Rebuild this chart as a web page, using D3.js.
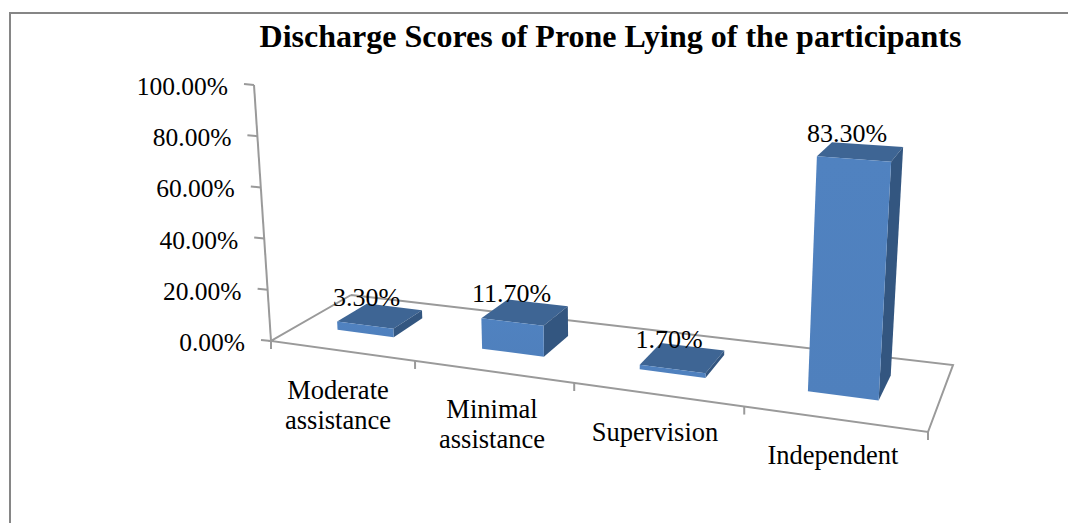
<!DOCTYPE html>
<html><head><meta charset="utf-8">
<script src="https://cdn.jsdelivr.net/npm/d3@7/dist/d3.min.js"></script>
<style>html,body{margin:0;padding:0;background:#fff}svg{display:block}text{font-family:"Liberation Serif",serif;fill:#000}</style>
</head><body><svg id="c" width="1068" height="523"></svg>
<script>
const titleText = "Discharge Scores of Prone Lying of the participants";
const categories = ["Moderate assistance","Minimal assistance","Supervision","Independent"];
const categoryLines = [["Moderate","assistance"],["Minimal","assistance"],["Supervision"],["Independent"]];
const values = [3.3,11.7,1.7,83.3];
const yTicks = [0,20,40,60,80,100];

const svg = d3.select("#c");
const FL=[271,341],FR=[928,432],BR=[953,365],BL=[351,295];
function makeH(p0,p1,p2,p3){
  const dx1=p1[0]-p2[0],dx2=p3[0]-p2[0],dy1=p1[1]-p2[1],dy2=p3[1]-p2[1];
  const sx=p0[0]-p1[0]+p2[0]-p3[0],sy=p0[1]-p1[1]+p2[1]-p3[1];
  const den=dx1*dy2-dx2*dy1;
  const g=(sx*dy2-dx2*sy)/den,h=(dx1*sy-sx*dy1)/den;
  const a=p1[0]-p0[0]+g*p1[0],b=p3[0]-p0[0]+h*p3[0],c=p0[0];
  const d=p1[1]-p0[1]+g*p1[1],e=p3[1]-p0[1]+h*p3[1],f=p0[1];
  return (u,v)=>{const w=g*u+h*v+1;return [(a*u+b*v+c)/w,(d*u+e*v+f)/w];};
}
const warp=d3.scaleLinear().domain([0,.25,.5,.75,1]).range([0,.262,.52,.765,1]);
const H=makeH(FL,FR,BR,BL);
const floor=(u,v)=>H(warp(u),v);
const band=d3.scaleBand().domain(categories).range([-0.004,0.996]).paddingInner(0.6).paddingOuter(0.3);
const depth=d3.scaleLinear().domain([0,1]).range([0.33,0.72]);
const heightPct=d3.scaleLinear().domain([0,100]).range([0,100]);
function raise(p,val){
  const px=(2.57+0.005*(p[1]-341))*heightPct(val);
  const lean=(p[0]-612)/(5507-p[1]);
  return [p[0]+lean*px,p[1]-px];
}
const gradF=svg.append("defs").append("linearGradient").attr("id","f").attr("x1",0).attr("x2",0).attr("y1",0).attr("y2",1);
gradF.append("stop").attr("offset",0).attr("stop-color","#5082c0");
gradF.append("stop").attr("offset",1).attr("stop-color","#4f80bd");

svg.append("path").attr("d","M10,523V13H1068").attr("fill","none").attr("stroke","#868686").attr("stroke-width",2);

svg.append("text").attr("x",610.5).attr("y",47).attr("text-anchor","middle").attr("font-size",32).attr("font-weight","bold").text(titleText);

const axisColor="#9a9a9a";
const line=d3.line();
const axisG=svg.append("g").attr("fill","none").attr("stroke",axisColor).attr("stroke-width",2);
axisG.append("path").attr("d",line([BL,FL,FR,BR,BL]));
const wallY=d3.scaleLinear().domain([0,100]).range([341,85]);
const wallX=d3.scaleLinear().domain([0,100]).range([271,254]);
axisG.append("path").attr("d",line([[wallX(0),wallY(0)],[wallX(100),wallY(100)]]));
axisG.selectAll("path.t").data(yTicks).join("path").attr("class","t")
  .attr("d",t=>line([[wallX(t)-10,wallY(t)-1],[wallX(t),wallY(t)]]));
const xt=[0,.25,.5,.75,1];
axisG.selectAll("path.x").data(xt).join("path").attr("class","x")
  .attr("d",u=>{const p=floor(u,0);return line([p,[p[0],p[1]+8]]);});

svg.append("g").selectAll("text").data(yTicks).join("text")
  .attr("x",t=>wallX(t)-26).attr("y",t=>wallY(t)+10).attr("text-anchor","end").attr("font-size",25.5)
  .text(t=>t.toFixed(2)+"%");

const bars=svg.append("g");
categories.forEach((c,i)=>{
  const v=values[i];
  const u0=band(c),u1=u0+band.bandwidth(),v0=depth(0),v1=depth(1);
  const a=floor(u0,v0),b=floor(u1,v0),cc=floor(u1,v1),dd=floor(u0,v1);
  const A=raise(a,v),B=raise(b,v),C=raise(cc,v),D=raise(dd,v);
  bars.append("path").attr("d",line([A,B,C,D])+"Z").attr("fill","#3e6594");
  bars.append("path").attr("d",line([B,C,cc,b])+"Z").attr("fill","#335680");
  bars.append("path").attr("d",line([a,b,B,A])+"Z").attr("fill","url(#f)");
  svg.append("text").datum(v)
    .attr("x",(A[0]+C[0])/2-13).attr("y",(A[1]+C[1])/2-10).attr("text-anchor","middle").attr("font-size",26)
    .text(v.toFixed(2)+"%");
});

const catPos=[[338,399],[492,418],[655,441],[833,464]];
svg.append("g").selectAll("text").data(categories).join("text")
  .attr("text-anchor","middle").attr("font-size",26.5)
  .each(function(c,i){
    const t=d3.select(this);
    categoryLines[i].forEach((l,j)=>t.append("tspan").attr("x",catPos[i][0]).attr("y",catPos[i][1]+j*30).text(l));
  });
</script></body></html>
